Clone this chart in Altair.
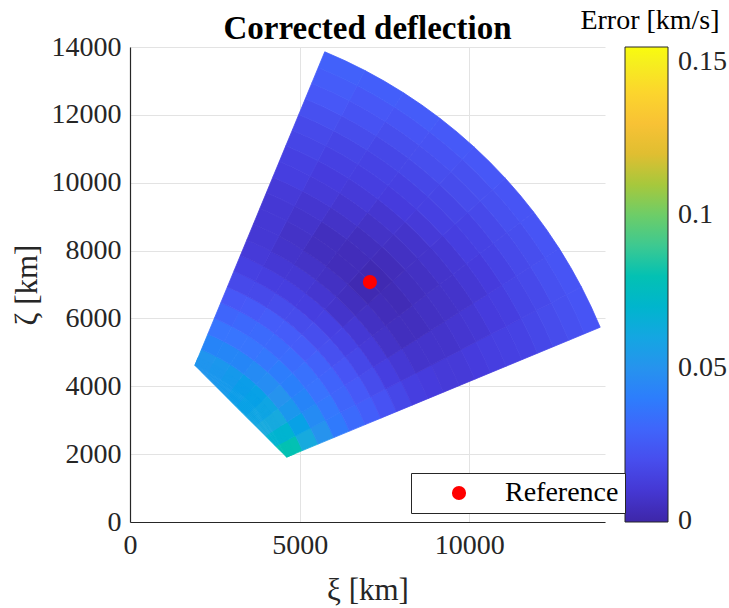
import math
import numpy as np
import pandas as pd
import altair as alt

# ---- data ----
r_centers = [5250, 5750, 6250, 6750, 7250, 7750, 8250, 8750, 9250, 9750,
             10250, 10750, 11250, 11750, 12250, 12750, 13250, 13750, 14250, 14750]
r_step = 500
phi_centers = [25, 30, 35, 40, 45, 50, 55, 60, 65]   # degrees from the xi axis
phi_step = 5
error_grid = [
    [0.080, 0.069, 0.062, 0.059, 0.057, 0.055, 0.053, 0.052, 0.051],
    [0.062, 0.057, 0.052, 0.050, 0.047, 0.046, 0.044, 0.044, 0.043],
    [0.050, 0.046, 0.043, 0.041, 0.040, 0.038, 0.037, 0.037, 0.037],
    [0.039, 0.038, 0.036, 0.035, 0.033, 0.032, 0.032, 0.031, 0.030],
    [0.032, 0.030, 0.029, 0.028, 0.026, 0.026, 0.026, 0.025, 0.024],
    [0.027, 0.025, 0.023, 0.021, 0.020, 0.019, 0.019, 0.018, 0.018],
    [0.022, 0.019, 0.017, 0.015, 0.014, 0.013, 0.013, 0.013, 0.014],
    [0.017, 0.013, 0.011, 0.010, 0.008, 0.009, 0.010, 0.010, 0.011],
    [0.013, 0.010, 0.007, 0.006, 0.005, 0.006, 0.007, 0.008, 0.010],
    [0.012, 0.008, 0.005, 0.004, 0.002, 0.004, 0.005, 0.007, 0.010],
    [0.011, 0.008, 0.005, 0.003, 0.002, 0.004, 0.005, 0.008, 0.010],
    [0.011, 0.008, 0.006, 0.005, 0.004, 0.005, 0.007, 0.009, 0.011],
    [0.012, 0.009, 0.007, 0.006, 0.006, 0.007, 0.009, 0.011, 0.013],
    [0.013, 0.010, 0.008, 0.008, 0.008, 0.009, 0.011, 0.012, 0.014],
    [0.014, 0.012, 0.010, 0.010, 0.011, 0.012, 0.013, 0.014, 0.016],
    [0.015, 0.013, 0.012, 0.013, 0.014, 0.014, 0.015, 0.016, 0.018],
    [0.017, 0.016, 0.015, 0.015, 0.016, 0.017, 0.017, 0.019, 0.021],
    [0.019, 0.018, 0.018, 0.018, 0.019, 0.020, 0.020, 0.022, 0.024],
    [0.021, 0.021, 0.020, 0.021, 0.021, 0.022, 0.023, 0.024, 0.026],
    [0.023, 0.023, 0.023, 0.023, 0.024, 0.025, 0.026, 0.027, 0.028],
]
ref_xi = [7071]
ref_zeta = [7071]
ref_name = ["Reference"]

x_ticks = [0, 5000, 10000]
y_ticks = [0, 2000, 4000, 6000, 8000, 10000, 12000, 14000]
cbar_ticks = [0, 0.05, 0.1, 0.15]
err_max = 0.155
chart_title = "Corrected deflection"
cbar_title = "Error [km/s]"

# parula colormap stops
parula_idx = [0, 5, 10, 15, 20, 25, 30, 35, 40, 45, 50, 55, 60, 63]
parula = ["#3e26a8", "#463cde", "#4758f8", "#3875fe", "#2b91ef", "#1ca9df", "#02bac3",
          "#31c69f", "#64cd6f", "#abc739", "#f0ba36", "#fec934", "#f5ea23", "#f9fb0e"]
parula_dom = [i / 63 * err_max for i in parula_idx]
parula_dom[0] = -0.0004   # keeps the "0" label centred on the bar's end

# ---- table of cells ----
r_min = r_centers[0] - r_step / 2
phi_min = phi_centers[0] - phi_step / 2
phi_max = phi_centers[-1] + phi_step / 2
phi_mid = (phi_min + phi_max) / 2
chord_d = r_min * math.cos(math.radians((phi_max - phi_min) / 2))

rows = []
for i, rc in enumerate(r_centers):
    for j, pc in enumerate(phi_centers):
        rows.append({
            "r_in": rc - r_step / 2,
            "r_out": rc + r_step / 2,
            "t1": math.radians(90 - (pc + phi_step / 2)),
            "t2": math.radians(90 - (pc - phi_step / 2)),
            "err": error_grid[i][j],
        })
# the inner edge of the region is a straight chord: fill the sliver with the
# first ring's values, in thin sub-sectors
n_sub = 10
for j, pc in enumerate(phi_centers):
    for k in range(n_sub):
        a0 = pc - phi_step / 2 + k * phi_step / n_sub
        a1 = a0 + phi_step / n_sub
        am = (a0 + a1) / 2
        rows.append({
            "r_in": chord_d / math.cos(math.radians(am - phi_mid)),
            "r_out": r_centers[0],
            "t1": math.radians(90 - a1),
            "t2": math.radians(90 - a0),
            "err": error_grid[0][j],
        })
cells = pd.DataFrame(rows)
ref_df = pd.DataFrame({"xi": ref_xi, "zeta": ref_zeta, "name": ref_name})
title_df = pd.DataFrame({"label": [chart_title]})
cbar_title_df = pd.DataFrame({"label": [cbar_title]})

FONT = "Liberation Serif"
W = H = 475
DMAX = 14000

xscale = alt.Scale(domain=[0, DMAX], nice=False, zero=True)
yscale = alt.Scale(domain=[0, DMAX], nice=False, zero=True)
xaxis = alt.Axis(values=x_ticks, title="ξ [km]", format="d", grid=True, labelFlush=False)
yaxis = alt.Axis(values=y_ticks, title="ζ [km]", format="d", grid=True, labelFlush=False)
cscale = alt.Scale(domain=parula_dom, range=parula, clamp=True)

arcs = alt.Chart(cells).mark_arc(strokeWidth=0.8, padAngle=0).encode(
    x=alt.XDatum(0, type="quantitative", scale=xscale, axis=xaxis),
    y=alt.YDatum(0, type="quantitative", scale=yscale, axis=yaxis),
    theta=alt.Theta("t1:Q", scale=None, stack=None),
    theta2=alt.Theta2("t2:Q"),
    radius=alt.Radius("r_in:Q", scale=alt.Scale(type="linear", domain=[0, DMAX], range=[0, H], zero=True)),
    radius2=alt.Radius2("r_out:Q"),
    color=alt.Color("err:Q", scale=cscale, legend=alt.Legend(
        title=None, orient="none", legendX=495, legendY=0, direction="vertical",
        gradientLength=475, gradientThickness=43, values=cbar_ticks, format="~g",
        labelFont=FONT, labelFontSize=28, labelColor="#262626", labelOffset=10,
        padding=0, gradientStrokeColor="#262626", gradientStrokeWidth=1)),
    stroke=alt.Stroke("err:Q", scale=cscale, legend=None),
)

points = alt.Chart(ref_df).mark_circle(size=200, opacity=1).encode(
    x=alt.X("xi:Q", scale=xscale, axis=xaxis),
    y=alt.Y("zeta:Q", scale=yscale, axis=yaxis),
    color=alt.Color("name:N", scale=alt.Scale(domain=ref_name, range=["#ff0000"]),
                    legend=alt.Legend(
                        title=None, orient="none", legendX=281, legendY=426,
                        fillColor="white", strokeColor="#262626", padding=6,
                        symbolType="circle", symbolSize=200, symbolStrokeWidth=0,
                        symbolOffset=28, labelOffset=32,
                        labelFont=FONT, labelFontSize=28, labelColor="#000000")),
)

title_text = alt.Chart(title_df).mark_text(
    font=FONT, fontSize=33, fontWeight="bold", color="#000000",
    align="center", baseline="alphabetic"
).encode(x=alt.value(W / 2), y=alt.value(-8), text="label:N")

cbar_text = alt.Chart(cbar_title_df).mark_text(
    font=FONT, fontSize=28, color="#000000", align="center", baseline="middle"
).encode(x=alt.value(520), y=alt.value(-26), text="label:N")

chart = alt.layer(arcs, points, title_text, cbar_text).resolve_scale(
    color="independent"
).properties(
    width=W, height=H,
    autosize=alt.AutoSizeParams(type="none"),
    padding={"left": 130, "top": 47, "right": 124, "bottom": 86},
).configure_view(stroke=None).configure_axis(
    labelFont=FONT, labelFontSize=28, labelColor="#262626",
    titleFont=FONT, titleFontSize=31, titleColor="#262626", titleFontWeight="normal",
    domainColor="#262626", domainWidth=1.2, ticks=False, labelPadding=9,
    gridColor="#e3e3e3", gridWidth=1,
).configure_axisY(titlePadding=8).configure_axisX(titlePadding=16)

chart.save("out.html", embed_options={"renderer": "svg", "actions": False})
